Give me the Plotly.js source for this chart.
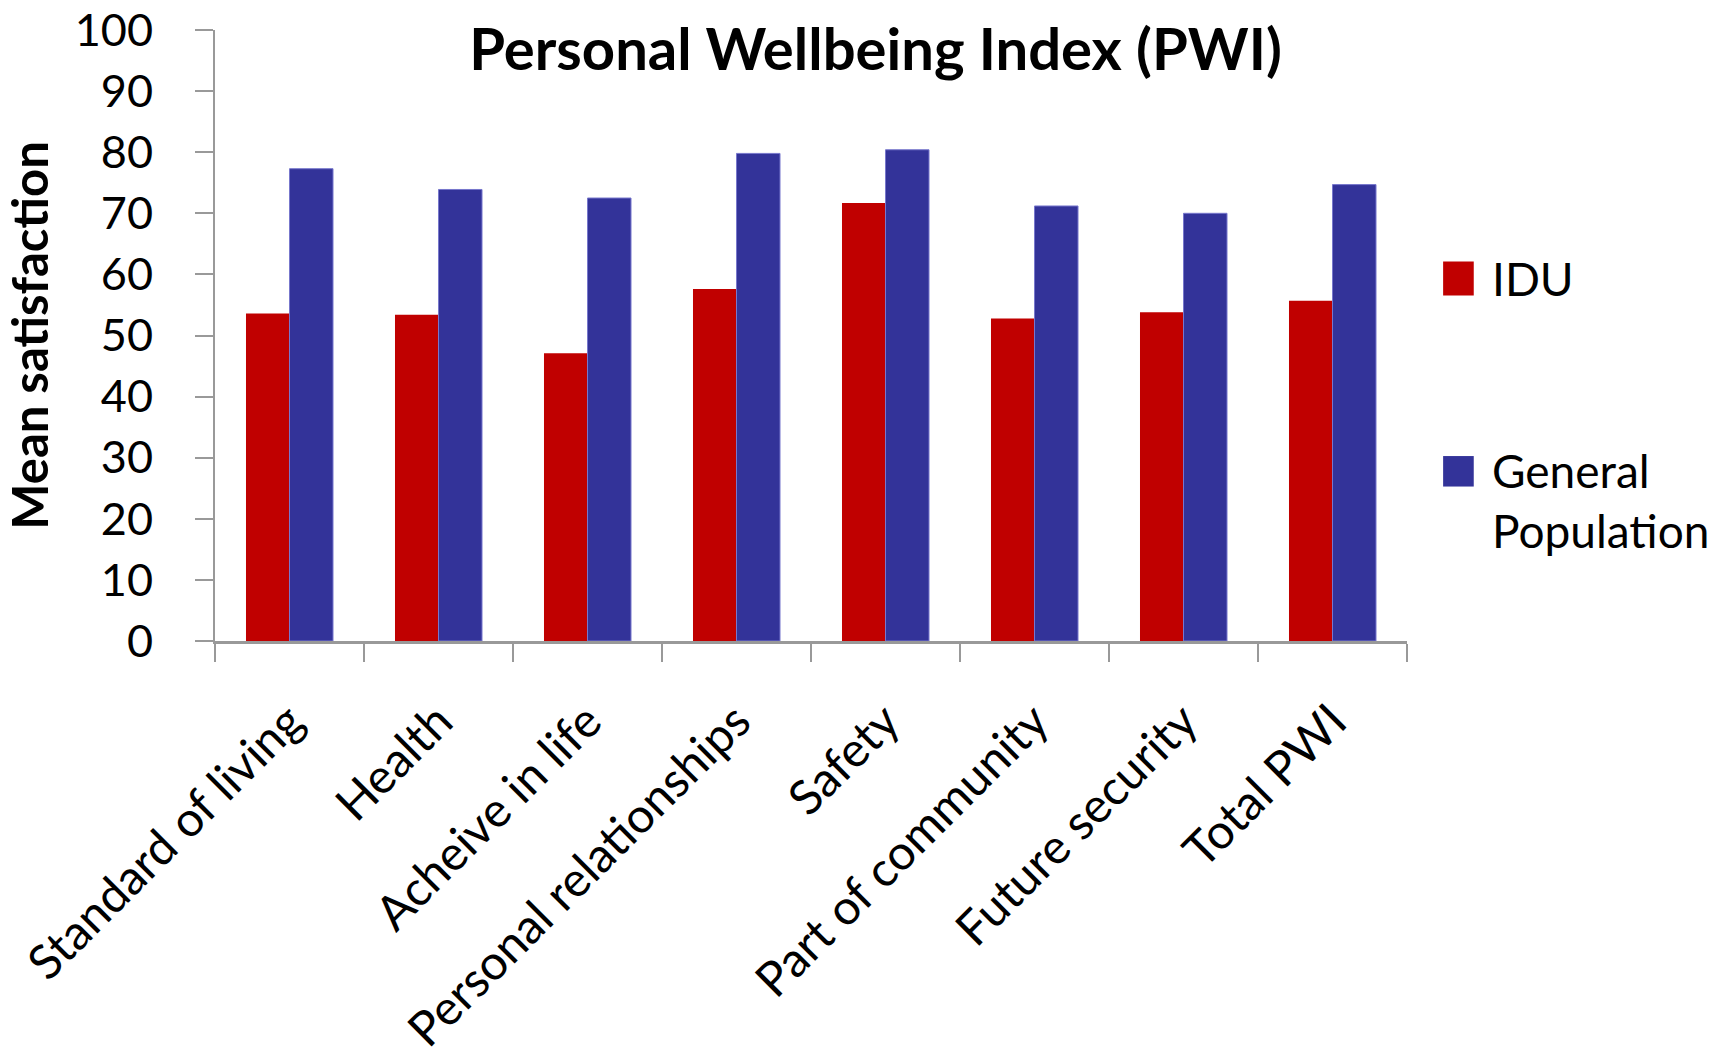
<!DOCTYPE html>
<html>
<head>
<meta charset="utf-8">
<script src="https://cdn.plot.ly/plotly-3.0.1.min.js"></script>
<style>html,body{margin:0;padding:0;background:#fff;}#chart{width:1727px;height:1061px;}</style>
</head>
<body>
<div id="chart"></div>
<script>
const categories = ["Standard of living", "Health", "Acheive in life", "Personal relationships", "Safety", "Part of community", "Future security", "Total PWI"];
const idu = [53.6, 53.4, 47.1, 57.6, 71.7, 52.8, 53.8, 55.7];
const generalPopulation = [77.3, 73.9, 72.5, 79.8, 80.4, 71.2, 70.0, 74.7];
const yTicks = [0, 10, 20, 30, 40, 50, 60, 70, 80, 90, 100];
const seriesNames = ["IDU", "General<br>Population"];
const colors = ["#C00000", "#333399"];

const FONT = "Lato, 'Open Sans', sans-serif";

const traces = [
  {type: "bar", name: "IDU", x: categories, y: idu, marker: {color: colors[0]}, showlegend: false},
  {type: "bar", name: "General Population", x: categories, y: generalPopulation, marker: {color: colors[1], line: {color: "#7777cc", width: 1}}, showlegend: false}
];

const layout = {
  width: 1727, height: 1061,
  margin: {l: 215, r: 320, t: 30, b: 420},
  paper_bgcolor: "#fff", plot_bgcolor: "#fff",
  font: {family: FONT, color: "#000"},
  barmode: "group", bargap: 0.416, bargroupgap: 0,
  title: {text: "<b>Personal Wellbeing Index (PWI)</b>", font: {family: FONT, size: 58, color: "#000"},
          xref: "container", x: 0.507, xanchor: "center", yref: "container", y: 0.953, yanchor: "middle"},
  xaxis: {type: "category", showline: true, linecolor: "#999", linewidth: 3,
          ticks: "outside", tickson: "boundaries", ticklen: 18, tickwidth: 2, tickcolor: "#999",
          tickangle: -45, tickfont: {family: FONT, size: 48, color: "#000"}, ticklabelstandoff: 30,
          showgrid: false, zeroline: false},
  yaxis: {range: [0, 100], tickvals: yTicks, ticktext: yTicks.map(String), showline: true, linecolor: "#999", linewidth: 2,
          ticks: "outside", ticklen: 18, tickwidth: 2, tickcolor: "#999",
          tickfont: {family: FONT, size: 45, color: "#000"}, ticklabelstandoff: 33,
          showgrid: false, zeroline: false,
          title: {text: "<b>Mean satisfaction</b>", standoff: 25, font: {family: FONT, size: 49, color: "#000"}}},
  shapes: [
    {type: "rect", xref: "paper", yref: "paper", x0: 1.0303, x1: 1.0560, y0: 0.5654, y1: 0.621, fillcolor: colors[0], line: {width: 0}},
    {type: "rect", xref: "paper", yref: "paper", x0: 1.0303, x1: 1.0560, y0: 0.2528, y1: 0.3027, fillcolor: colors[1], line: {width: 0}}
  ],
  annotations: [
    {xref: "paper", yref: "paper", x: 1.0695, y: 0.593, xanchor: "left", yanchor: "middle", text: seriesNames[0], showarrow: false, align: "left", font: {family: FONT, size: 46, color: "#000"}},
    {xref: "paper", yref: "paper", x: 1.0695, y: 0.23, xanchor: "left", yanchor: "middle", text: seriesNames[1], showarrow: false, align: "left", font: {family: FONT, size: 46, color: "#000"}}
  ]
};

Plotly.newPlot("chart", traces, layout, {displayModeBar: false, staticPlot: true});
</script>
</body>
</html>
